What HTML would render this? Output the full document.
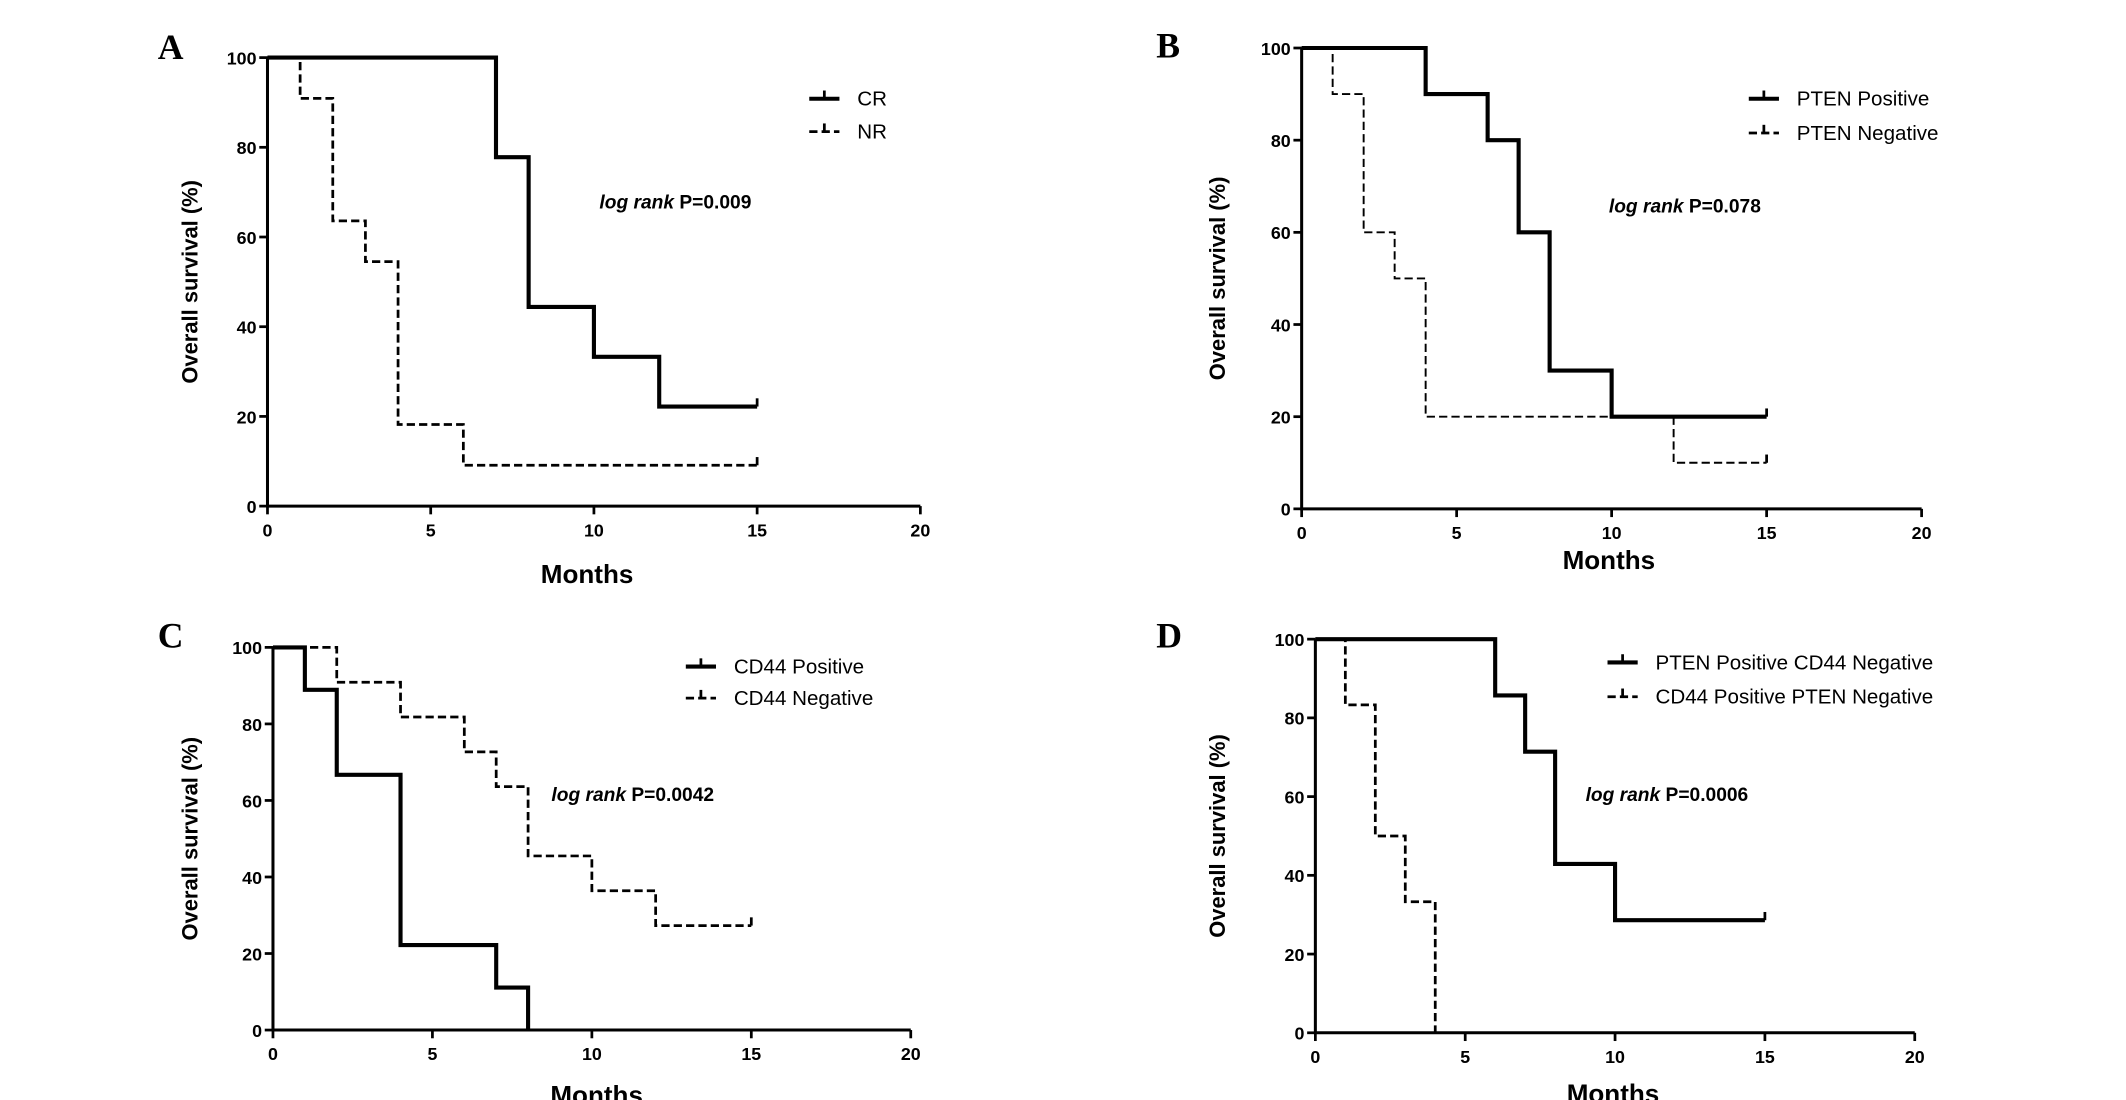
<!DOCTYPE html>
<html><head><meta charset="utf-8"><style>
html,body{margin:0;padding:0;background:#fff;}
svg{display:block;font-family:"Liberation Sans",Arial,sans-serif;}
</style></head><body>
<svg id="fig" width="2126" height="1100" viewBox="0 0 1550 802" xmlns="http://www.w3.org/2000/svg"></svg>
<script>
// Panel data (months, survival %)
const panelIds = ["A","B","C","D"];
const seriesNames = [["CR","NR"],["PTEN Positive","PTEN Negative"],["CD44 Positive","CD44 Negative"],["PTEN Positive CD44 Negative","CD44 Positive PTEN Negative"]];
const pValues = ["0.009","0.078","0.0042","0.0006"];
const xTicks = [0,5,10,15,20];
const yTicks = [0,20,40,60,80,100];
// step series: times of drops and survival after each drop
const aSolidT = [0,7,8,10,12,15], aSolidS = [100,77.8,44.4,33.3,22.2,22.2];
const aDashT  = [0,1,2,3,4,6,15],  aDashS  = [100,90.9,63.6,54.5,18.2,9.1,9.1];
const bSolidT = [0,4,6,7,8,10,15], bSolidS = [100,90,80,60,30,20,20];
const bDashT  = [0,1,2,3,4,12,15], bDashS  = [100,90,60,50,20,10,10];
const cSolidT = [0,1,2,4,7,8],     cSolidS = [100,88.9,66.7,22.2,11.1,0];
const cDashT  = [0,2,4,6,7,8,10,12,15], cDashS = [100,90.9,81.8,72.7,63.6,45.5,36.4,27.3,27.3];
const dSolidT = [0,6,7,8,10,15],   dSolidS = [100,85.7,71.4,42.9,28.6,28.6];
const dDashT  = [0,1,2,3,4],       dDashS  = [100,83.3,50,33.3,0];
const solidT=[aSolidT,bSolidT,cSolidT,dSolidT], solidS=[aSolidS,bSolidS,cSolidS,dSolidS];
const dashT=[aDashT,bDashT,cDashT,dDashT], dashS=[aDashS,bDashS,cDashS,dDashS];

// layout (display units)
const L = [
 {x0:195,x20:671,y0:369,y100:42,letter:[115,43],ytx:138,months:[428,425],leg:[590,72,96],lr:[437,152],censor:[true,true]},
 {x0:949,x20:1401,y0:371,y100:35,letter:[843,42],ytx:887,months:[1173,415],leg:[1275,72,97],lr:[1173,155],censor:[true,true]},
 {x0:199,x20:664,y0:751,y100:472,letter:[115,472],ytx:138,months:[435,805],leg:[500,486,509],lr:[402,584],censor:[false,true]},
 {x0:959,x20:1396,y0:753,y100:466,letter:[843,472],ytx:887,months:[1176,804],leg:[1172,483,508],lr:[1156,584],censor:[true,false]}
];
const svg=document.getElementById('fig'), NS="http://www.w3.org/2000/svg";
function mk(tag,attrs,parent,text){const e=document.createElementNS(NS,tag);for(const k in attrs)e.setAttribute(k,attrs[k]);if(text!==undefined)e.textContent=text;(parent||svg).appendChild(e);return e;}

panelIds.forEach((id,i)=>{
  const c=L[i];
  const sx=v=>c.x0+(c.x20-c.x0)*v/20, sy=v=>c.y0+(c.y100-c.y0)*v/100;
  const g=mk('g',{});
  
  
  const lt=mk('text',{x:c.letter[0],y:c.letter[1],'font-family':'Liberation Serif,serif','font-weight':'bold','font-size':26},g,id);
  
  
  // axes
  const ax=mk('path',{d:`M${sx(0)},${sy(100)}V${sy(0)}H${sx(20)}`,fill:'none',stroke:'#000','stroke-width':2.2},g);
  
  
  xTicks.forEach(t=>{
    mk('line',{x1:sx(t),x2:sx(t),y1:sy(0),y2:sy(0)+6,stroke:'#000','stroke-width':2},g);
    const tx=mk('text',{x:sx(t),y:sy(0)+22,'text-anchor':'middle','font-size':13,'font-weight':'bold'},g,t);
    
    
  });
  yTicks.forEach(t=>{
    mk('line',{x1:sx(0)-6,x2:sx(0),y1:sy(t),y2:sy(t),stroke:'#000','stroke-width':2},g);
    const ty=mk('text',{x:sx(0)-8,y:sy(t)+5,'text-anchor':'end','font-size':13,'font-weight':'bold'},g,t);
    
    
  });
  const yt=mk('text',{x:0,y:0,transform:`translate(${c.ytx+6},${(c.y0+c.y100)/2}) rotate(-90)`,'text-anchor':'middle','font-size':16,'font-weight':'bold'},g,'Overall survival (%)');
  
  
  const xt=mk('text',{x:c.months[0],y:c.months[1],'text-anchor':'middle','font-size':19,'font-weight':'bold'},g,'Months');
  
  
  // series
  function step(T,S){let d=`M${sx(T[0])},${sy(S[0])}`;for(let k=1;k<T.length;k++){d+=`H${sx(T[k])}V${sy(S[k])}`;}return d;}
  const ps=mk('path',{d:step(solidT[i],solidS[i]),fill:'none',stroke:'#000','stroke-width':3},g);
  
  
  const pd=mk('path',{d:step(dashT[i],dashS[i]),fill:'none',stroke:'#000','stroke-width':i==1?1.4:2,'stroke-dasharray':'6,3'},g);
  
  
  if(c.censor[0]){const T=solidT[i],S=solidS[i];mk('line',{x1:sx(T[T.length-1]),x2:sx(T[T.length-1]),y1:sy(S[S.length-1])-6,y2:sy(S[S.length-1]),stroke:'#000','stroke-width':2},g);}
  if(c.censor[1]){const T=dashT[i],S=dashS[i];mk('line',{x1:sx(T[T.length-1]),x2:sx(T[T.length-1]),y1:sy(S[S.length-1])-6,y2:sy(S[S.length-1]),stroke:'#000','stroke-width':2},g);}
  // legend
  [0,1].forEach(j=>{
    const ly=c.leg[1+j];
    const le=mk('g',{},g);
    
    
    mk('line',{x1:c.leg[0],x2:c.leg[0]+22,y1:ly,y2:ly,stroke:'#000','stroke-width':j?2:3,'stroke-dasharray':j?'6,3':'none'},le);
    mk('line',{x1:c.leg[0]+11,x2:c.leg[0]+11,y1:ly-6,y2:ly,stroke:'#000','stroke-width':2},le);
    mk('text',{x:c.leg[0]+35,y:ly+5,'font-size':15},le,seriesNames[i][j]);
  });
  const lr=mk('text',{x:c.lr[0],y:c.lr[1],'font-size':14,'font-weight':'bold'},g);
  
  
  mk('tspan',{'font-style':'italic'},lr,'log rank ');
  mk('tspan',{},lr,'P='+pValues[i]);
});
</script>
</body></html>
